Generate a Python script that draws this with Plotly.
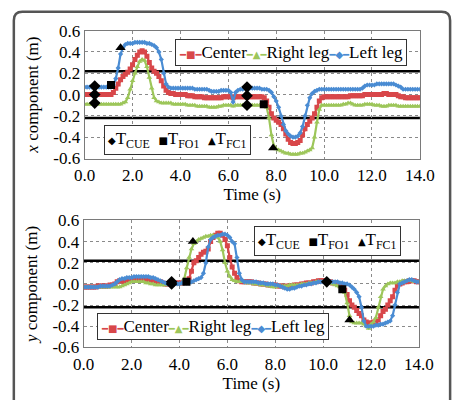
import plotly.graph_objects as go

# ---------------- data ----------------
time_s = [round(i * 0.1, 1) for i in range(141)]

x_center = [
    0.00, 0.00, 0.00, 0.00, 0.00, 0.00, 0.00, 0.00, 0.00, 0.00,
    0.00, 0.00, 0.02, 0.06, 0.10, 0.14, 0.17, 0.19, 0.21, 0.24,
    0.28, 0.33, 0.37, 0.40, 0.41, 0.40, 0.36, 0.30, 0.25, 0.22,
    0.20, 0.17, 0.13, 0.08, 0.04, 0.02, 0.01, 0.01, 0.00, 0.00,
    0.00, 0.00, 0.00, -0.01, -0.01, -0.01, -0.02, -0.02, -0.02, -0.02,
    -0.03, -0.03, -0.03, -0.03, -0.03, -0.03, -0.03, -0.03, -0.02, -0.02,
    -0.02, -0.02, -0.03, -0.02, -0.02, -0.02, -0.02, -0.02, -0.02, -0.02,
    -0.02, -0.02, -0.02, -0.02, -0.02, -0.03, -0.06, -0.12, -0.18, -0.22,
    -0.24, -0.26, -0.28, -0.32, -0.37, -0.42, -0.45, -0.46, -0.46, -0.45,
    -0.43, -0.38, -0.32, -0.28, -0.25, -0.22, -0.18, -0.12, -0.06, -0.03,
    -0.02, -0.02, -0.02, -0.02, -0.02, -0.02, -0.02, -0.02, -0.02, -0.02,
    -0.02, -0.01, -0.01, -0.01, -0.01, -0.01, -0.01, 0.00, 0.00, 0.00,
    0.00, 0.00, 0.00, 0.00, 0.00, 0.01, 0.01, 0.00, 0.00, 0.00,
    0.00, -0.01, -0.02, -0.02, -0.03, -0.03, -0.03, -0.03, -0.03, -0.03,
    -0.03,
]
x_right = [
    -0.09, -0.09, -0.09, -0.09, -0.09, -0.09, -0.09, -0.09, -0.09, -0.09,
    -0.09, -0.09, -0.09, -0.09, -0.09, -0.09, -0.08, -0.07, -0.03, 0.05,
    0.13, 0.20, 0.26, 0.31, 0.33, 0.32, 0.26, 0.16, 0.06, -0.03,
    -0.06, -0.07, -0.08, -0.08, -0.08, -0.08, -0.08, -0.09, -0.09, -0.09,
    -0.09, -0.09, -0.09, -0.10, -0.10, -0.10, -0.10, -0.11, -0.11, -0.11,
    -0.11, -0.11, -0.12, -0.12, -0.12, -0.12, -0.11, -0.11, -0.10, -0.10,
    -0.10, -0.10, -0.11, -0.10, -0.10, -0.10, -0.10, -0.10, -0.10, -0.10,
    -0.10, -0.10, -0.10, -0.10, -0.10, -0.10, -0.12, -0.22, -0.38, -0.48,
    -0.51, -0.52, -0.53, -0.54, -0.55, -0.55, -0.56, -0.56, -0.56, -0.56,
    -0.55, -0.55, -0.54, -0.53, -0.52, -0.50, -0.40, -0.26, -0.14, -0.10,
    -0.10, -0.10, -0.10, -0.10, -0.10, -0.10, -0.10, -0.10, -0.09, -0.09,
    -0.08, -0.08, -0.09, -0.10, -0.10, -0.10, -0.10, -0.09, -0.09, -0.09,
    -0.09, -0.10, -0.10, -0.10, -0.11, -0.11, -0.11, -0.10, -0.10, -0.10,
    -0.10, -0.11, -0.11, -0.11, -0.11, -0.11, -0.11, -0.11, -0.11, -0.11,
    -0.11,
]
x_left = [
    0.07, 0.07, 0.07, 0.07, 0.07, 0.07, 0.07, 0.07, 0.07, 0.07,
    0.07, 0.07, 0.09, 0.15, 0.25, 0.38, 0.44, 0.47, 0.48, 0.48,
    0.48, 0.49, 0.49, 0.49, 0.49, 0.49, 0.48, 0.48, 0.47, 0.46,
    0.44, 0.40, 0.33, 0.20, 0.10, 0.07, 0.06, 0.06, 0.06, 0.06,
    0.06, 0.06, 0.06, 0.06, 0.06, 0.06, 0.05, 0.05, 0.05, 0.05,
    0.05, 0.05, 0.04, 0.03, 0.03, 0.03, 0.03, 0.04, 0.04, 0.04,
    0.04, 0.02, -0.07, 0.02, 0.04, 0.05, 0.05, 0.06, 0.06, 0.06,
    0.06, 0.06, 0.06, 0.06, 0.05, 0.05, 0.05, 0.04, 0.02, -0.02,
    -0.06, -0.12, -0.20, -0.28, -0.34, -0.37, -0.39, -0.40, -0.40, -0.39,
    -0.36, -0.30, -0.20, -0.10, -0.03, 0.01, 0.03, 0.04, 0.05, 0.05,
    0.05, 0.05, 0.05, 0.05, 0.05, 0.05, 0.05, 0.05, 0.05, 0.05,
    0.05, 0.05, 0.05, 0.05, 0.05, 0.05, 0.06, 0.08, 0.09, 0.09,
    0.09, 0.09, 0.10, 0.10, 0.10, 0.10, 0.10, 0.10, 0.10, 0.10,
    0.09, 0.08, 0.07, 0.05, 0.05, 0.05, 0.05, 0.05, 0.05, 0.05,
    0.05,
]

y_center = [
    -0.03, -0.03, -0.03, -0.03, -0.03, -0.03, -0.02, -0.02, -0.02, -0.02,
    -0.02, -0.01, -0.01, 0.00, 0.02, 0.03, 0.03, 0.02, 0.03, 0.04,
    0.04, 0.04, 0.05, 0.05, 0.05, 0.05, 0.04, 0.04, 0.04, 0.03,
    0.03, 0.02, 0.02, 0.01, 0.00, 0.00, 0.00, 0.00, 0.01, 0.01,
    0.01, 0.01, 0.02, 0.02, 0.05, 0.12, 0.20, 0.22, 0.25, 0.28,
    0.30, 0.31, 0.33, 0.40, 0.44, 0.46, 0.48, 0.48, 0.46, 0.42,
    0.36, 0.25, 0.16, 0.10, 0.06, 0.03, 0.02, 0.02, 0.02, 0.02,
    0.02, 0.01, 0.01, 0.01, 0.00, 0.00, 0.00, -0.01, -0.01, -0.01,
    -0.01, -0.02, -0.02, -0.02, -0.03, -0.02, -0.02, -0.02, -0.01, -0.01,
    -0.01, 0.00, 0.00, 0.01, 0.01, 0.01, 0.02, 0.02, 0.03, 0.03,
    0.03, 0.03, 0.02, 0.02, 0.01, 0.01, 0.00, -0.01, -0.03, -0.06,
    -0.10, -0.16, -0.20, -0.22, -0.25, -0.28, -0.30, -0.34, -0.36, -0.37,
    -0.37, -0.36, -0.36, -0.34, -0.30, -0.26, -0.24, -0.20, -0.16, -0.12,
    -0.06, -0.02, 0.00, 0.01, 0.02, 0.02, 0.03, 0.03, 0.03, 0.02,
    0.02,
]
y_right = [
    -0.03, -0.03, -0.03, -0.03, -0.03, -0.03, -0.03, -0.03, -0.03, -0.03,
    -0.03, -0.03, -0.03, -0.03, -0.03, -0.03, -0.02, -0.01, 0.00, 0.01,
    0.02, 0.02, 0.02, 0.02, 0.02, 0.02, 0.01, 0.01, 0.00, 0.00,
    -0.01, -0.01, -0.01, -0.01, -0.01, 0.00, 0.00, 0.00, 0.00, 0.00,
    0.00, 0.01, 0.05, 0.15, 0.25, 0.33, 0.38, 0.40, 0.42, 0.43,
    0.44, 0.45, 0.45, 0.46, 0.46, 0.45, 0.44, 0.40, 0.32, 0.20,
    0.12, 0.07, 0.04, 0.03, 0.02, 0.02, 0.02, 0.02, 0.01, 0.01,
    0.01, 0.00, 0.00, 0.00, -0.01, -0.01, -0.01, -0.02, -0.02, -0.03,
    -0.03, -0.02, -0.02, -0.02, -0.02, -0.02, -0.01, -0.01, -0.01, -0.01,
    -0.01, 0.00, 0.00, 0.00, 0.01, 0.01, 0.01, 0.02, 0.02, 0.02,
    0.02, 0.02, 0.01, 0.01, 0.00, -0.01, -0.02, -0.03, -0.05, -0.08,
    -0.18, -0.30, -0.36, -0.37, -0.37, -0.37, -0.37, -0.38, -0.40, -0.42,
    -0.38, -0.36, -0.32, -0.22, -0.12, -0.05, -0.02, 0.00, 0.01, 0.01,
    0.01, 0.02, 0.02, 0.03, 0.03, 0.03, 0.03, 0.03, 0.02, 0.02,
    0.02,
]
y_left = [
    -0.03, -0.03, -0.03, -0.03, -0.03, -0.03, -0.03, -0.02, -0.02, -0.02,
    -0.02, -0.02, -0.01, 0.00, 0.02, 0.04, 0.05, 0.05, 0.06, 0.06,
    0.06, 0.07, 0.07, 0.07, 0.07, 0.07, 0.07, 0.07, 0.06, 0.06,
    0.05, 0.04, 0.03, 0.02, 0.01, 0.00, 0.00, 0.00, 0.00, 0.00,
    0.00, 0.01, 0.01, 0.01, 0.01, 0.02, 0.03, 0.04, 0.05, 0.06,
    0.10, 0.20, 0.35, 0.42, 0.44, 0.45, 0.46, 0.46, 0.47, 0.47,
    0.46, 0.44, 0.40, 0.38, 0.25, 0.10, 0.04, 0.02, 0.02, 0.02,
    0.02, 0.02, 0.02, 0.01, 0.01, 0.01, 0.00, 0.00, 0.00, 0.00,
    -0.01, -0.01, -0.02, -0.03, -0.04, -0.05, -0.05, -0.04, -0.04, -0.03,
    -0.02, -0.02, -0.01, -0.01, 0.00, 0.00, 0.01, 0.01, 0.02, 0.02,
    0.02, 0.02, 0.02, 0.02, 0.02, 0.02, 0.02, 0.01, 0.01, 0.00,
    0.00, -0.01, -0.03, -0.05, -0.08, -0.12, -0.22, -0.35, -0.40, -0.40,
    -0.40, -0.40, -0.39, -0.39, -0.38, -0.38, -0.37, -0.36, -0.35, -0.30,
    -0.20, -0.08, 0.00, 0.01, 0.02, 0.03, 0.04, 0.04, 0.03, 0.02,
    0.02,
]

# event markers (time, value)
x_cue_t = [0.42, 0.42, 0.42, 6.78, 6.78, 6.78]
x_cue_v = [0.08, 0.00, -0.08, 0.07, -0.01, -0.10]
x_fo1_t = [1.10, 7.48]
x_fo1_v = [0.09, -0.09]
x_fc1_t = [1.50, 7.87]
x_fc1_v = [0.44, -0.50]

y_cue_t = [3.67, 3.67, 10.15]
y_cue_v = [0.02, 0.00, 0.02]
y_fo1_t = [4.29, 10.80]
y_fo1_v = [0.02, -0.05]
y_fc1_t = [4.56, 11.10]
y_fc1_v = [0.40, -0.34]

threshold = [0.22, -0.22]

x_tick_vals = [0, 2, 4, 6, 8, 10, 12, 14]
x_tick_text = ["0.0", "2.0", "4.0", "6.0", "8.0", "10.0", "12.0", "14.0"]
y_tick_vals = [-0.6, -0.4, -0.2, 0.0, 0.2, 0.4, 0.6]
y_tick_text = ["-0.6", "-0.4", "-0.2", "0.0", "0.2", "0.4", "0.6"]

# ---------------- style ----------------
FONT = "Times New Roman, Liberation Serif, serif"
FS = 17
RED = "#D8474A"
GREEN = "#9DC65A"
BLUE = "#4A8CD3"
W, H = 467, 400

fig = go.Figure()

series = [("Center", RED, "square", 5), ("Right leg", GREEN, "triangle-up", 5),
          ("Left leg", BLUE, "diamond", 4)]

for (xa, ya, vals) in [("x", "y", [x_center, x_right, x_left]),
                       ("x2", "y2", [y_center, y_right, y_left])]:
    for (name, col, sym, sz), v in zip(series, vals):
        fig.add_trace(go.Scatter(
            x=time_s, y=v, name=name, xaxis=xa, yaxis=ya, mode="lines+markers",
            line=dict(color=col, width=2.2),
            marker=dict(symbol=sym, size=sz, color=col),
            showlegend=False))

for xa, ya, ev in [("x", "y", [(x_cue_t, x_cue_v, "diamond"), (x_fo1_t, x_fo1_v, "square"),
                               (x_fc1_t, x_fc1_v, "triangle-up")]),
                   ("x2", "y2", [(y_cue_t, y_cue_v, "diamond"), (y_fo1_t, y_fo1_v, "square"),
                                 (y_fc1_t, y_fc1_v, "triangle-up")])]:
    for tt, vv, sym in ev:
        fig.add_trace(go.Scatter(x=tt, y=vv, xaxis=xa, yaxis=ya, mode="markers",
                                 marker=dict(symbol=sym, size=9 if sym != "square" else 8,
                                             color="black"),
                                 showlegend=False))

# threshold lines
for yref in ["y", "y2"]:
    for th in threshold:
        fig.add_shape(type="line", xref=("x" if yref == "y" else "x2") + " domain", x0=0, x1=1,
                      yref=yref, y0=th, y1=th, line=dict(color="black", width=2.5),
                      layer="below")

# rounded frame around the figure
rx, ry = 9 / W, 9 / H
x0, x1, yt = 3 / W, 465 / W, 1 - 3 / H
frame = (f"M {x0},-0.05 L {x0},{yt-ry} Q {x0},{yt} {x0+rx},{yt} "
         f"L {x1-rx},{yt} Q {x1},{yt} {x1},{yt-ry} L {x1},-0.05")
fig.add_shape(type="path", xref="paper", yref="paper", path=frame,
              line=dict(color="#555555", width=2.5))

axis_common = dict(range=[0, 14], tickvals=x_tick_vals, ticktext=x_tick_text,
                   showgrid=True, gridcolor="#8a8a8a", griddash="dot", gridwidth=1,
                   showline=True, linecolor="#7a7a7a", linewidth=1, mirror=True,
                   zeroline=False, ticks="outside", ticklen=1, tickcolor="rgba(0,0,0,0)",
                   tickfont=dict(family=FONT, size=FS, color="black"),
                   title=dict(text="Time (s)", font=dict(family=FONT, size=FS, color="black"),
                              standoff=0))
yaxis_common = dict(range=[-0.6, 0.6], tickvals=y_tick_vals, ticktext=y_tick_text,
                    showgrid=True, gridcolor="#8a8a8a", griddash="dot", gridwidth=1,
                    showline=True, linecolor="#7a7a7a", linewidth=1, mirror=True,
                    zeroline=False, ticks="", tickfont=dict(family=FONT, size=FS, color="black"))

fig.update_layout(
    width=W, height=H, margin=dict(l=0, r=0, t=0, b=0),
    paper_bgcolor="white", plot_bgcolor="white",
    font=dict(family=FONT, size=FS, color="black"),
    xaxis=dict(axis_common, domain=[78 / W, 433 / W], anchor="y"),
    yaxis=dict(yaxis_common, domain=[1 - 157 / H, 1 - 22.7 / H], anchor="x",
               title=dict(text="<i>x</i> component (m)", font=dict(family=FONT, size=FS),
                          standoff=10)),
    xaxis2=dict(axis_common, domain=[77 / W, 432 / W], anchor="y2"),
    yaxis2=dict(yaxis_common, domain=[1 - 355.3 / H, 1 - 222 / H], anchor="x2",
                title=dict(text="<i>y</i> component (m)", font=dict(family=FONT, size=FS),
                           standoff=10)),
    showlegend=False,
)

SYM = "font-family:DejaVu Sans;font-size:10px"


def series_legend():
    parts = []
    for name, col, sym, sz in series:
        glyph = {"square": "■", "triangle-up": "▲", "diamond": "◆"}[sym]
        parts.append(f"<span style=\"color:{col};{SYM}\">━{glyph}━</span>{name}")
    return "".join(parts)


def event_legend():
    return ("<span style=\"" + SYM + "\">◆</span>T<sub>CUE</sub>  "
            "<span style=\"" + SYM + "\">■</span>T<sub>FO1</sub>  "
            "<span style=\"" + SYM + "\">▲</span>T<sub>FC1</sub>")


leg_style = dict(showarrow=False, bgcolor="white", bordercolor="#333333", borderwidth=1,
                 borderpad=3, font=dict(family=FONT, size=FS, color="black"),
                 xref="paper", yref="paper")
fig.add_annotation(text=series_legend(), x=419 / W, y=1 - 32 / H, xanchor="right",
                   yanchor="top", **leg_style)
fig.add_annotation(text=event_legend(), x=98 / W, y=1 - 122 / H, xanchor="left",
                   yanchor="top", **leg_style)
fig.add_annotation(text=event_legend(), x=413 / W, y=1 - 228 / H, xanchor="right",
                   yanchor="top", **leg_style)
fig.add_annotation(text=series_legend(), x=91 / W, y=1 - 319 / H, xanchor="left",
                   yanchor="top", **leg_style)

fig.write_html("out.html")
